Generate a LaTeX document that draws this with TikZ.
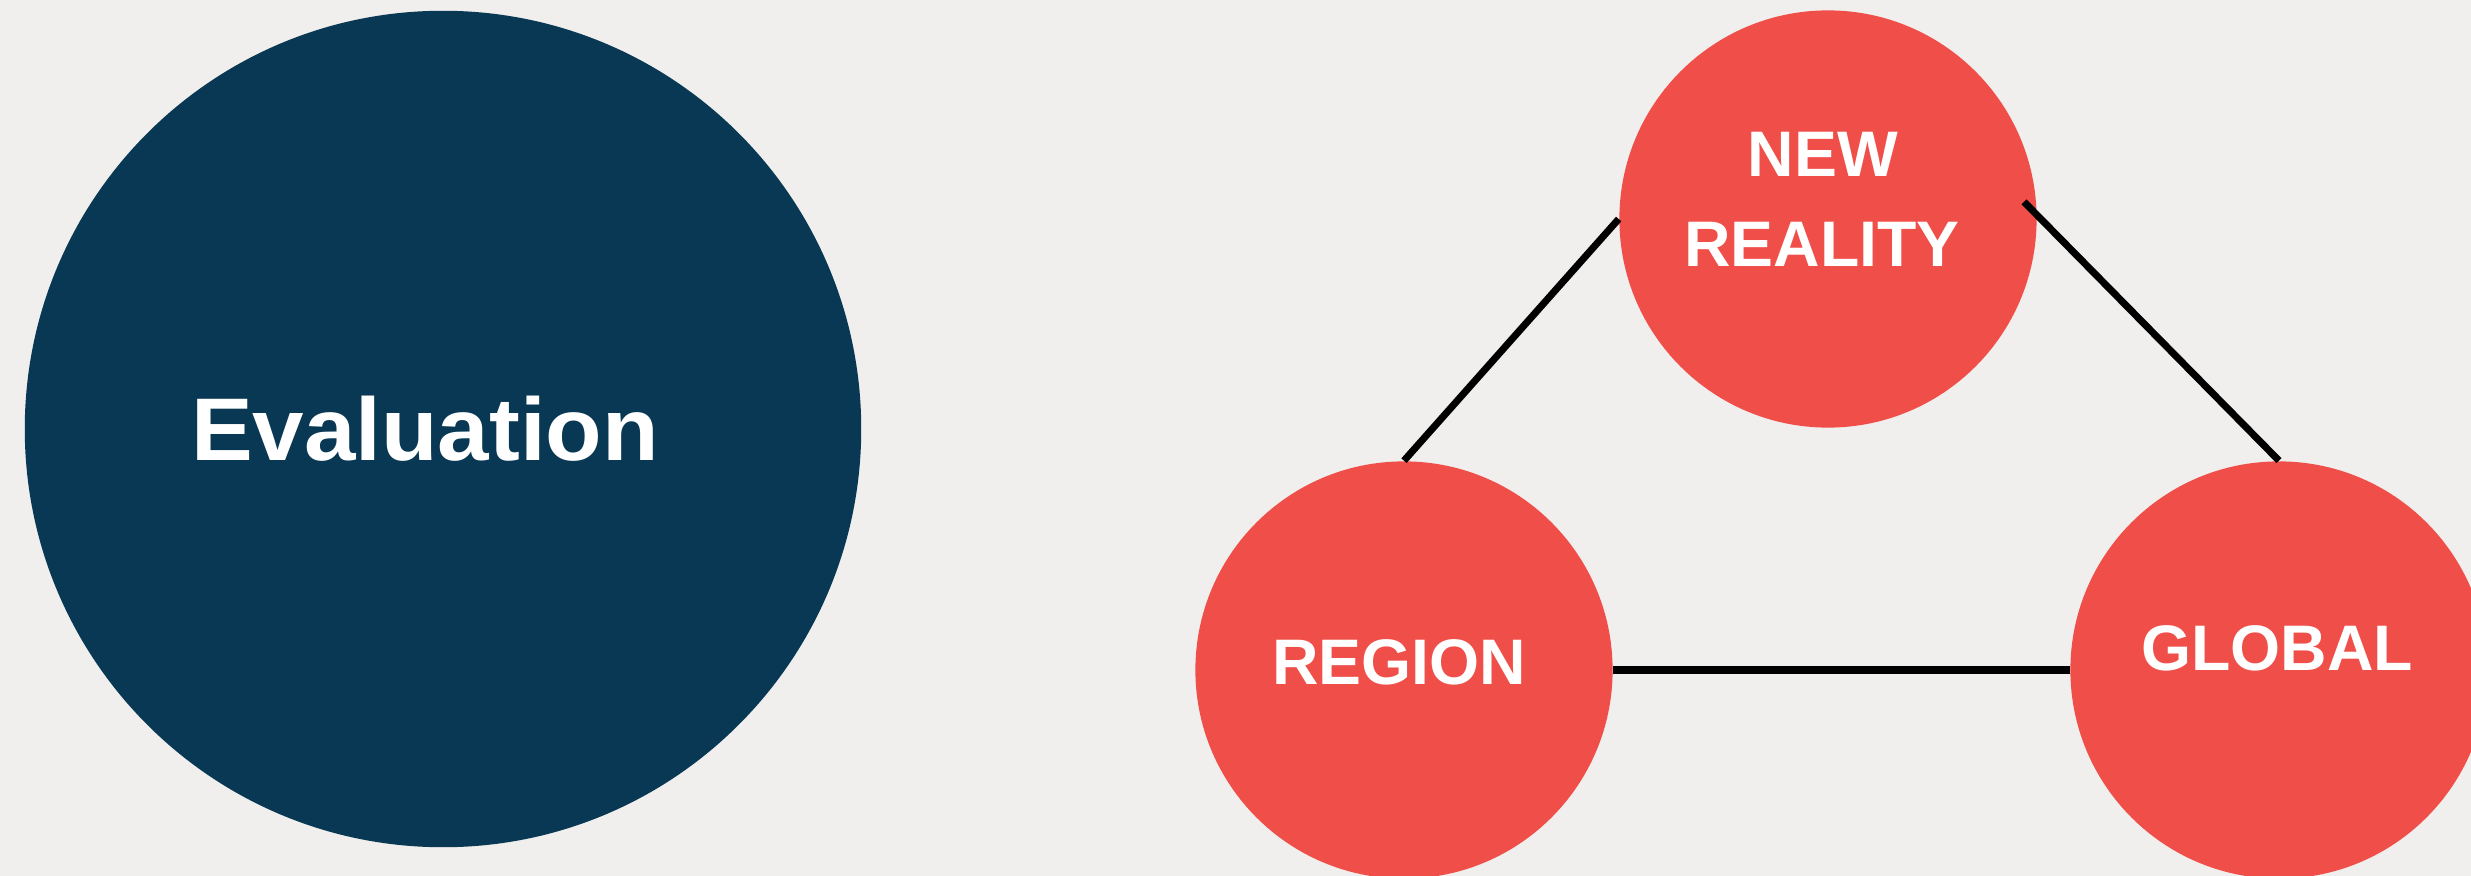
\documentclass[tikz,border=0pt]{standalone}
\usepackage{fontspec}
\setmainfont{Liberation Sans}
\usetikzlibrary{calc}
\definecolor{bgc}{HTML}{F0EFED}
\definecolor{navy}{HTML}{083853}
\definecolor{coral}{HTML}{F04E48}
\begin{document}
\begin{tikzpicture}[x=0.01cm,y=-0.01cm,
  bubble/.style={circle,fill=coral,draw=none,inner sep=0pt,minimum size=4.17cm},
  bigbubble/.style={circle,fill=navy,draw=none,inner sep=0pt,minimum size=8.36cm},
  lab/.style={text=white,font=\fontsize{18.3}{25.6}\selectfont\bfseries,anchor=base,inner sep=0pt,align=center},
  conn/.style={draw=black,line width=2pt}]
\useasboundingbox (0,0) rectangle (2471,876);
\clip (0,0) rectangle (2471,876);
\fill[bgc] (0,0) rectangle (2471,876);
\node[bigbubble] (eval) at (443,429) {};
\node[bubble] (nr) at (1828,219) {};
\node[bubble] (reg) at (1404,670) {};
\node[bubble] (glob) at (2279,670) {};
\draw[conn] (reg.north) -- (nr.west);
\draw[conn] ($(nr.center)!0.94!(nr.5)$) -- (glob.north);
\draw[conn] (reg.east) -- (glob.west);
\node[text=white,font=\fontsize{25.3}{30}\selectfont\bfseries,anchor=base,inner sep=0pt,xscale=1.04] (evaltxt) at (425,461) {Evaluation};
\node[lab] (nrtxt1) at (1823,177) {NEW};
\node[lab] (nrtxt2) at (1822,267) {REALITY};
\node[lab] (regtxt) at (1399,685) {REGION};
\node[lab] (globtxt) at (2277,670) {GLOBAL};
\end{tikzpicture}
\end{document}
